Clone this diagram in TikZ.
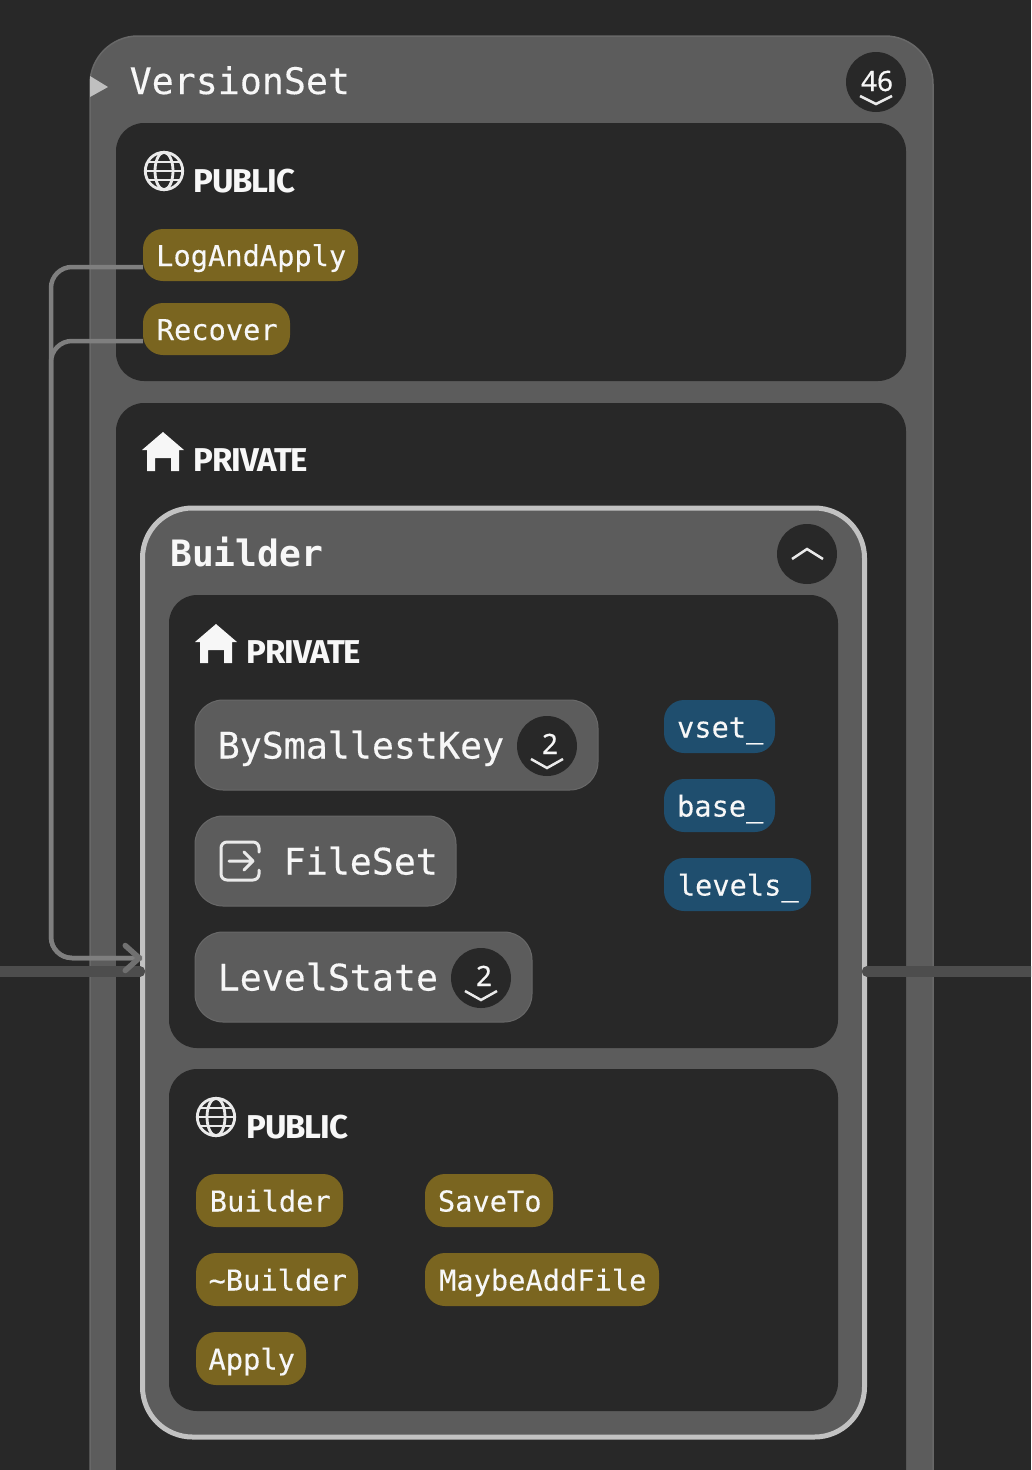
\documentclass[tikz,border=0pt]{standalone}
\usepackage{fontspec}
\usetikzlibrary{arrows.meta}
\setmainfont[FakeBold=0.5]{Noto Sans}
\newfontfamily\monof[FakeBold=0.25]{DejaVu Sans Mono}
\newfontfamily\monobf{DejaVu Sans Mono Bold}
\newfontfamily\headf[LetterSpace=-3]{Fira Sans}
\definecolor{bgc}{HTML}{282828}
\definecolor{panel}{HTML}{5C5C5C}
\definecolor{panelline}{HTML}{686868}
\definecolor{fnc}{HTML}{7A6520}
\definecolor{varc}{HTML}{1F4E6E}
\definecolor{edgec}{HTML}{7F7F7F}
\definecolor{darkline}{HTML}{4D4D4D}
\definecolor{txt}{HTML}{F7F7F7}
\definecolor{icon}{HTML}{EAEAEA}
\newcommand{\rbx}[7]{%
  \pgfmathsetmacro\cxv{(#2+#4)/2}%
  \pgfmathsetmacro\cyv{(#3+#5)/2}%
  \node[#6,minimum width={(#4-#2)*1pt},minimum height={(#5-#3)*1pt}] (#1) at (\cxv,\cyv) {\hspace{1.5pt}#7};}
\newcommand{\globeicon}[2]{%
  \begin{scope}[shift={(#1,#2)},icon,line width=2.8pt]
    \draw (0,0) circle (18.7);
    \draw (0,0) ellipse (9 and 18.7);
    \draw (-18.7,0) -- (18.7,0);
    \draw (-16,-9) -- (16,-9);
    \draw (-16,9) -- (16,9);
  \end{scope}}
\newcommand{\houseicon}[2]{%
  \fill[shift={(#1,#2)},txt,even odd rule]
    (0,0) -- (21,18) -- (16,18) -- (16,39) -- (8,39) -- (8,26) -- (-8,26) -- (-8,39) -- (-16,39) -- (-16,18) -- (-21,18) -- cycle;}
\tikzset{
  x=1pt,y=-1pt,
  outerbox/.style={draw=panelline,line width=1.5pt,fill=panel,rounded corners=48,inner sep=0},
  sectionbox/.style={draw=none,fill=bgc,rounded corners=28,inner sep=0},
  builderbox/.style={draw=black!24,line width=5pt,fill=panel,rounded corners=50,inner sep=0},
  classbox/.style={draw=panelline,line width=1pt,fill=panel,rounded corners=28,inner sep=0},
  pilltext/.style={text=txt,font=\monof\fontsize{28.7}{32}\selectfont,inner sep=0,text height=37pt,text depth=15pt,rounded corners=20},
  fnpill/.style={pilltext,fill=fnc},
  varpill/.style={pilltext,fill=varc},
  bigtext/.style={text=txt,font=\monof\fontsize{36.6}{40}\selectfont,anchor=base west,inner sep=0},
  titlebold/.style={text=txt,font=\monobf\fontsize{36.3}{40}\selectfont,anchor=base west,inner sep=0},
  headtext/.style={text=txt,font=\headf\bfseries\fontsize{33}{36}\selectfont,anchor=base west,inner sep=0},
  badge/.style={circle,fill=bgc,minimum size=60pt,inner sep=0},
  badgenum/.style={text=txt,font=\fontsize{28}{30}\selectfont,anchor=base,inner sep=0},
  chev/.style={draw=icon,line width=2.5pt},
  conn/.style={draw=edgec,line width=4.5pt,rounded corners=21},
  stub/.style={draw=darkline,line width=10.5pt,line cap=round},
}
\begin{document}
\begin{tikzpicture}
\useasboundingbox (0,0) rectangle (1031,1470);
\clip (0,0) rectangle (1031,1470);
\fill[bgc] (0,0) rectangle (1031,1470);

% outer class
\rbx{versionset}{90}{36}{933}{1560}{outerbox}{}
\fill[black!25] (90,76) -- (108,87) -- (90,97) -- cycle;
\node[bigtext] (vstitle) at (129.5,94) {VersionSet};
\node[badge] (b46) at (876,82) {};
\node[badgenum] (b46n) at (877,91) {46};
\draw[chev] (860,96) -- (876,104) -- (892,96);

% public section
\rbx{pubsec}{116}{123}{906}{381}{sectionbox}{}
\globeicon{164}{171}
\node[headtext] (pubhead) at (193,192) {PUBLIC};
\rbx{logapply}{143}{229}{358}{281}{fnpill}{LogAndApply}
\rbx{recover}{143}{303}{290}{355}{fnpill}{Recover}

% private section
\rbx{privsec}{116}{403}{906}{1560}{sectionbox}{}
\houseicon{163}{432}
\node[headtext] (privhead) at (193,471) {PRIVATE};

% Builder
\rbx{builder}{142.5}{508}{864.5}{1437}{builderbox}{}
\node[titlebold] (buildertitle) at (170,566) {Builder};
\node[badge] (bup) at (807,554) {};
\draw[chev] (792,559) -- (807,549) -- (823,559);

\rbx{bpriv}{169}{595}{838}{1048}{sectionbox}{}
\houseicon{216}{624}
\node[headtext] (bprivhead) at (246,663) {PRIVATE};

\rbx{bysmall}{195}{700}{598}{790}{classbox}{}
\node[bigtext] (bysmallt) at (217.5,758.5) {BySmallestKey};
\node[badge] (b2a) at (547,746) {};
\node[badgenum] (b2an) at (550,754) {2};
\draw[chev] (531,759) -- (547,768) -- (563,759);

\rbx{fileset}{195}{816}{456}{906}{classbox}{}
\node[bigtext] (filesett) at (283.5,874.5) {FileSet};
\draw[icon,line width=3pt,line cap=round,rounded corners=6]
  (259,852) -- (259,842) -- (221,842) -- (221,880) -- (259,880) -- (259,870);
\draw[icon,line width=3pt,line cap=round,line join=round]
  (229,861) -- (253,861) (244,852) -- (253,861) -- (244,870);

\rbx{levelstate}{195}{932}{532}{1022}{classbox}{}
\node[bigtext] (levelstatet) at (217.5,990.5) {LevelState};
\node[badge] (b2b) at (481,978) {};
\node[badgenum] (b2bn) at (484,986) {2};
\draw[chev] (465,991) -- (481,1000) -- (497,991);

\rbx{vset}{664}{700}{775}{753}{varpill}{vset\_}
\rbx{base}{664}{779}{775}{832}{varpill}{base\_}
\rbx{levels}{664}{858}{811}{911}{varpill}{levels\_}

\rbx{bpub}{169}{1069}{838}{1411}{sectionbox}{}
\globeicon{216}{1117}
\node[headtext] (bpubhead) at (246,1138) {PUBLIC};
\rbx{ctor}{196}{1174}{343}{1227}{fnpill}{Builder}
\rbx{saveto}{425}{1174}{553}{1227}{fnpill}{SaveTo}
\rbx{dtor}{196}{1253}{358}{1306}{fnpill}{\textasciitilde Builder}
\rbx{maybeadd}{425}{1253}{659}{1306}{fnpill}{MaybeAddFile}
\rbx{apply}{196}{1332}{306}{1385}{fnpill}{Apply}

% stubs
\coordinate (leftedge) at (-8,971.5);
\coordinate (rightedge) at (1040,971.5);
\draw[stub] (leftedge) -- (builder.west |- leftedge);
\draw[stub] (rightedge) -- (builder.east |- rightedge);

% connectors
\coordinate (bus1) at (51,267);
\coordinate (bus2) at (51,341);
\coordinate (bus3) at (51,958);
\coordinate (arrowend) at ([xshift=2pt]builder.west |- bus3);
\draw[conn] ([yshift=-12pt]logapply.west) -- (bus1) -- (bus3) -- (arrowend);
\draw[conn,-{Straight Barb[length=14pt,width=25pt,line width=5.5pt,round,color=edgec!88!black]}]
  ([yshift=-12pt]recover.west) -- (bus2) -- (bus3) -- (arrowend);
\end{tikzpicture}
\end{document}
